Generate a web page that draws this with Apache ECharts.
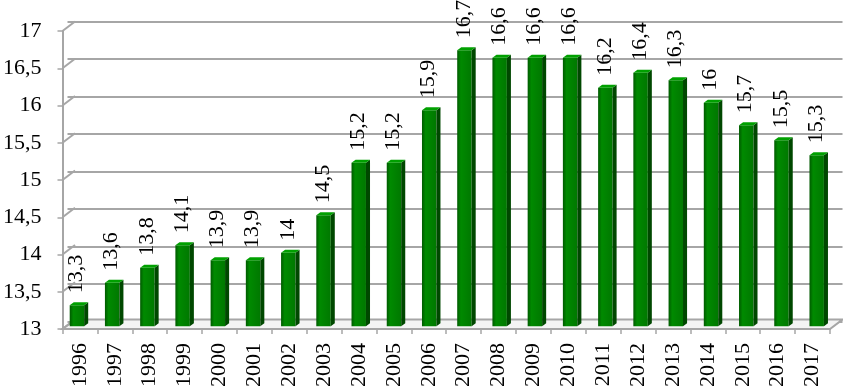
<!DOCTYPE html>
<html><head><meta charset="utf-8">
<script src="https://cdn.jsdelivr.net/npm/echarts@6/dist/echarts.min.js"></script>
<style>html,body{margin:0;padding:0;background:#fff}#c{width:843px;height:390px}</style>
</head><body><div id="c"></div>
<script>
var years = ['1996','1997','1998','1999','2000','2001','2002','2003','2004','2005','2006','2007','2008','2009','2010','2011','2012','2013','2014','2015','2016','2017'];
var values = [13.3,13.6,13.8,14.1,13.9,13.9,14,14.5,15.2,15.2,15.9,16.7,16.6,16.6,16.6,16.2,16.4,16.3,16,15.7,15.5,15.3];
var yTicks = [13,13.5,14,14.5,15,15.5,16,16.5,17];
var yMin = 13, yMax = 17, yStep = 0.5;

var FONT = '"Liberation Serif", "DejaVu Serif", serif';
var FS = 22;
var GRID_C = '#a6a6a6';
var DX = 12.5, DY = -9.5;
function fmt(v){ return String(v).replace('.', ','); }

var chart = echarts.init(document.getElementById('c'));
var yBase = {type:'value', min:yMin, max:yMax, interval:yStep};
chart.setOption({
  animation:false,
  grid:[
    {left:55, right:13, top:31, bottom:59},
    {left:55+DX, right:13-DX, top:31+DY, bottom:59-DY},
    {left:55+DX/2, right:13-DX/2, top:31+DY/2, bottom:59-DY/2}
  ],
  xAxis:[
    {gridIndex:0, type:'category', data:years, boundaryGap:true,
     axisLine:{show:true, lineStyle:{color:GRID_C, width:2}},
     axisTick:{show:true, length:5, lineStyle:{color:GRID_C, width:1.5}},
     axisLabel:{rotate:90, margin:14, color:'#000', fontFamily:FONT, fontSize:FS}},
    {gridIndex:1, type:'category', data:years, show:false},
    {gridIndex:2, type:'category', data:years, show:false}
  ],
  yAxis:[
    Object.assign({gridIndex:0,
     axisLine:{show:true, lineStyle:{color:GRID_C, width:2}},
     axisTick:{show:true, length:5, lineStyle:{color:GRID_C, width:1.5}},
     splitLine:{show:false},
     axisLabel:{margin:21, color:'#000', fontFamily:FONT, fontSize:FS, formatter:function(v){return fmt(v);}}}, yBase),
    Object.assign({gridIndex:1, axisLine:{show:false}, axisTick:{show:false}, axisLabel:{show:false},
     splitLine:{show:true, lineStyle:{color:GRID_C, width:2}}}, yBase),
    Object.assign({gridIndex:2, show:false}, yBase)
  ],
  series:[
    {
      type:'custom', xAxisIndex:0, yAxisIndex:0, silent:true, z:1,
      data:[0],
      renderItem:function(params, api){
        var cs = params.coordSys;
        var x0 = cs.x, x1 = cs.x + cs.width, yb = cs.y + cs.height;
        var children = [{
          type:'polygon',
          shape:{points:[[x0,yb],[x1,yb],[x1+DX,yb+DY],[x0+DX,yb+DY]]},
          style:{fill:'#f4f4f4', stroke:GRID_C, lineWidth:2}
        }];
        yTicks.forEach(function(t){
          var p = api.coord([0, t]);
          children.push({type:'line', shape:{x1:x0, y1:p[1], x2:x0+DX, y2:p[1]+DY},
            style:{stroke:GRID_C, lineWidth:2}});
        });
        return {type:'group', children:children};
      }
    },
    {
      type:'custom', xAxisIndex:2, yAxisIndex:2, z:5,
      data:values.map(function(v,i){return [i,v];}),
      renderItem:function(params, api){
        var i = api.value(0), v = api.value(1);
        var top = api.coord([i, v]);
        var base = api.coord([i, yMin]);
        var band = api.size([1,0])[0];
        var cx = top[0];
        var fl = cx - band*0.26, fr = cx + band*0.15, d = band*0.115, h = 3;
        var ty = top[1] + 1.5, by = base[1];
        return {type:'group', children:[
          {type:'rect', shape:{x:fl, y:ty, width:fr-fl, height:by-ty},
           style:{fill:new echarts.graphic.LinearGradient(0,0,1,0,[
             {offset:0,color:'#005a00'},{offset:0.25,color:'#008a00'},{offset:1,color:'#007800'}])}},
          {type:'polygon', shape:{points:[[fr,ty],[fr+d,ty-h],[fr+d,by-h],[fr,by]]},
           style:{fill:'#004800'}},
          {type:'polygon', shape:{points:[[fl,ty],[fl+d,ty-h],[fr+d,ty-h],[fr,ty]]},
           style:{fill:'#00a000'}},
          {type:'text', x:cx - band*0.07, y:ty - 12, rotation:Math.PI/2,
           style:{text:fmt(v), fill:'#000', font:FS + 'px ' + FONT, align:'left', verticalAlign:'middle'}}
        ]};
      }
    }
  ]
});
</script></body></html>
